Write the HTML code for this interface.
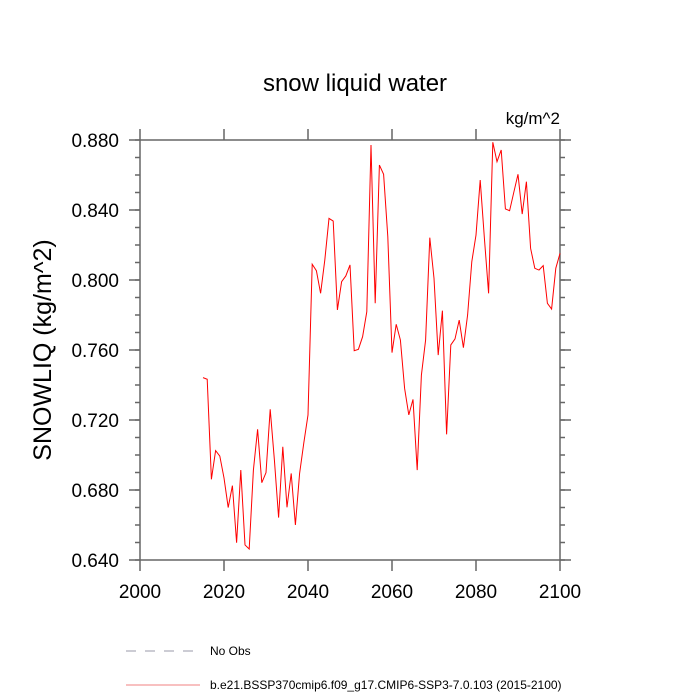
<!DOCTYPE html>
<html><head><meta charset="utf-8"><style>
html,body{margin:0;padding:0;background:#fff;}
svg{display:block;font-family:"Liberation Sans",sans-serif;}
</style></head><body>
<svg id="chart" width="700" height="700" viewBox="0 0 700 700">
<text x="355" y="91" font-size="24" text-anchor="middle">snow liquid water</text>
<text x="560" y="124" font-size="17" text-anchor="end">kg/m^2</text>
<text transform="translate(51,350) rotate(-90)" font-size="25" text-anchor="middle">SNOWLIQ  (kg/m^2)</text>
<g id="axes"></g>
<g id="series"></g>
<g>
<line x1="126" y1="651" x2="200" y2="651" stroke="#99a" stroke-width="1" stroke-dasharray="10,9"/>
<text x="210" y="655" font-size="12">No Obs</text>
<line x1="126" y1="685" x2="200" y2="685" stroke="#f08080" stroke-width="1"/>
<text x="210" y="689" font-size="12">b.e21.BSSP370cmip6.f09_g17.CMIP6-SSP3-7.0.103 (2015-2100)</text>
</g>
</svg>
<script>
const startYear = 2015;
const values = [0.7442,0.7433,0.6861,0.7025,0.6994,0.6869,0.6700,0.6825,0.6499,0.6914,
0.6486,0.6463,0.6914,0.7147,0.6842,0.6899,0.7261,0.6971,0.6642,0.7047,
0.6701,0.6895,0.6600,0.6895,0.7069,0.7229,0.8090,0.8053,0.7924,0.8114,
0.8352,0.8337,0.7829,0.7990,0.8023,0.8086,0.7596,0.7604,0.7676,0.7819,
0.8771,0.7867,0.8657,0.8604,0.8248,0.7585,0.7747,0.7657,0.7381,0.7229,
0.7318,0.6914,0.7457,0.7657,0.8242,0.8010,0.7571,0.7825,0.7118,0.7629,
0.7663,0.7771,0.7613,0.7800,0.8105,0.8257,0.8571,0.8238,0.7924,0.8787,
0.8676,0.8743,0.8406,0.8396,0.8501,0.8604,0.8377,0.8562,0.8181,0.8067,
0.8057,0.8082,0.7867,0.7834,0.8067,0.8152];
const xTicks = [2000,2020,2040,2060,2080,2100];
const yTicks = [0.640,0.680,0.720,0.760,0.800,0.840,0.880];
const xMin=2000,xMax=2100,yMin=0.64,yMax=0.88;
const L=140,R=560,T=140,B=560;
const sx=v=>L+(v-xMin)/(xMax-xMin)*(R-L);
const sy=v=>B-(v-yMin)/(yMax-yMin)*(B-T);
const NS="http://www.w3.org/2000/svg";
const axes=document.getElementById('axes');
function ln(x1,y1,x2,y2,name){const e=document.createElementNS(NS,'line');
e.setAttribute('x1',x1);e.setAttribute('y1',y1);e.setAttribute('x2',x2);e.setAttribute('y2',y2);
e.setAttribute('stroke','#666');e.setAttribute('stroke-width','1.5');


axes.appendChild(e);return e;}
const fr=document.createElementNS(NS,'rect');
fr.setAttribute('x',L);fr.setAttribute('y',T);fr.setAttribute('width',R-L);fr.setAttribute('height',B-T);
fr.setAttribute('fill','none');fr.setAttribute('stroke','#666');fr.setAttribute('stroke-width','1.5');


axes.appendChild(fr);
xTicks.forEach(t=>{const x=sx(t);ln(x,B,x,B+11,'x-tick');ln(x,T,x,T-11,'x-tick-top');
const tx=document.createElementNS(NS,'text');tx.setAttribute('x',x);tx.setAttribute('y',B+38);
tx.setAttribute('font-size','19');tx.setAttribute('text-anchor','middle');tx.textContent=t;


axes.appendChild(tx);});
for(let v=yMin;v<=yMax+1e-9;v+=0.01){const y=sy(v);ln(L-5,y,L,y,'y-minor-tick');ln(R,y,R+5,y,'y-minor-tick-right');}
yTicks.forEach(t=>{const y=sy(t);ln(L-11,y,L,y,'y-tick');ln(R,y,R+11,y,'y-tick-right');
const tx=document.createElementNS(NS,'text');tx.setAttribute('x',L-21);tx.setAttribute('y',y+7);
tx.setAttribute('font-size','19');tx.setAttribute('text-anchor','end');tx.textContent=t.toFixed(3);


axes.appendChild(tx);});
const p=document.createElementNS(NS,'polyline');
p.setAttribute('points',values.map((v,i)=>sx(startYear+i)+','+sy(v)).join(' '));
p.setAttribute('fill','none');p.setAttribute('stroke','#ff0000');p.setAttribute('stroke-width','1');


document.getElementById('series').appendChild(p);
</script>
</body></html>
